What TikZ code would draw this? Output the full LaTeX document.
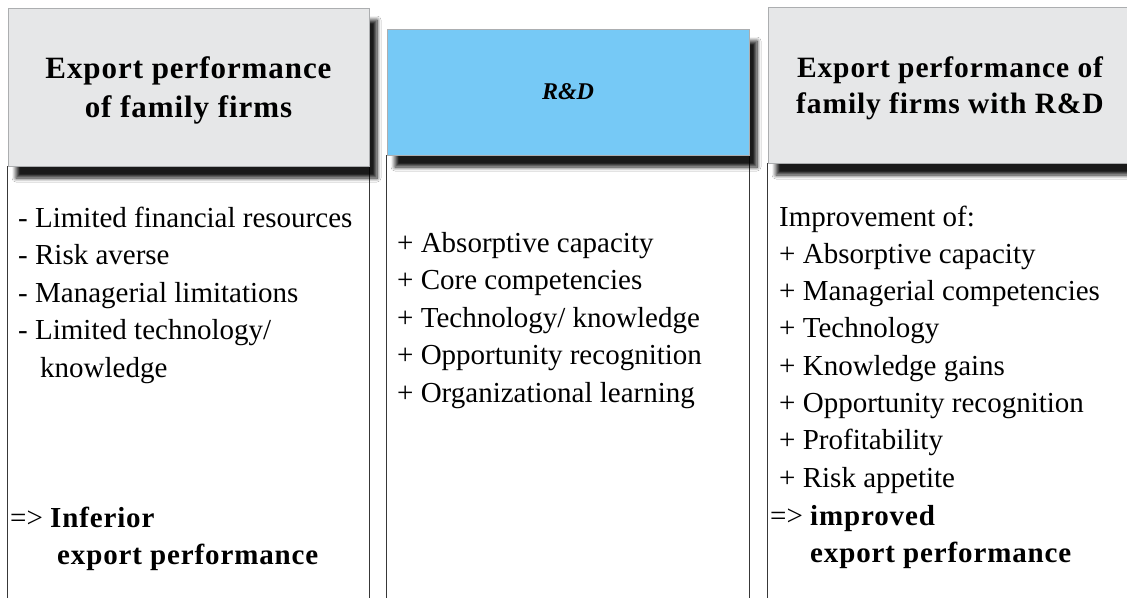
\documentclass[tikz,border=0pt]{standalone}
\usepackage{fontspec}
\setmainfont{Liberation Serif}[BoldFeatures={LetterSpace=3}]
\usetikzlibrary{shadows.blur,backgrounds}

\definecolor{headgray}{RGB}{230,231,232}
\definecolor{headblue}{RGB}{118,201,246}
\definecolor{rimgray}{RGB}{172,174,176}

\begin{document}
\begin{tikzpicture}[
  x=1pt,y=-1pt,
  head/.style={draw=rimgray,line width=0.7pt,inner sep=0pt,align=center,
    font=\fontsize{31}{39}\selectfont\bfseries,
    blur shadow={shadow xshift=8pt,shadow yshift=-12pt,shadow blur radius=4pt,
      shadow blur steps=8,shadow opacity=90}},
  colline/.style={draw=black!78,line width=1.4pt},
  item/.style={anchor=base west,inner sep=0pt,font=\fontsize{29}{37.5}\selectfont},
  verdict/.style={item,font=\fontsize{29}{37.5}\selectfont\bfseries}
]
  \useasboundingbox (0,0) rectangle (1127,597);

  % column heads
  \node[head,fill=headgray,minimum width=361pt,minimum height=158pt] (famhead)
    at (188.5,87) {\rule{0pt}{28pt}Export performance\\of family firms};
  \node[head,fill=headblue,minimum width=362pt,minimum height=126pt,
    font=\fontsize{24}{28}\selectfont\bfseries\itshape] (rdhead)
    at (568,92) {R\&D};
  \node[head,fill=headgray,minimum width=364pt,minimum height=156pt,
    font=\fontsize{29.5}{36}\selectfont\bfseries] (rdfamhead)
    at (950,85) {\rule{0pt}{27pt}Export performance of\\family firms with R\&D};

  % open columns below the heads
  \begin{scope}[on background layer]
    \fill[white] (0,0) rectangle (1127,597);
    \foreach \h in {famhead,rdhead,rdfamhead} {
      \draw[colline] (\h.south west) -- ++(0,460);
      \draw[colline] (\h.south east) -- ++(0,460);
    }
  \end{scope}

  % left column
  \foreach \txt [count=\i from 0] in {- Limited financial resources,- Risk averse,
      - Managerial limitations,- Limited technology/}
    \node[item] (famitem\i) at (18,{227+37.5*\i}) {\txt};
  \node[item] (famitem4) at (40,377) {knowledge};
  \node[item] (famres) at (10,527) {=> \textbf{Inferior}};
  \node[verdict] (famres2) at (57,564) {export performance};

  % middle column
  \foreach \txt [count=\i from 0] in {+ Absorptive capacity,+ Core competencies,
      + Technology/ knowledge,+ Opportunity recognition,+ Organizational learning}
    \node[item] (rditem\i) at (397,{252+37.5*\i}) {\txt};

  % right column
  \foreach \txt [count=\i from 0] in {Improvement of:,+ Absorptive capacity,
      + Managerial competencies,+ Technology,+ Knowledge gains,
      + Opportunity recognition,+ Profitability,+ Risk appetite}
    \node[item] (rdfamitem\i) at (779,{226+37.3*\i}) {\txt};
  \node[item] (rdfamres) at (770,525) {=> \textbf{improved}};
  \node[verdict] (rdfamres2) at (810,562) {export performance};
\end{tikzpicture}
\end{document}
